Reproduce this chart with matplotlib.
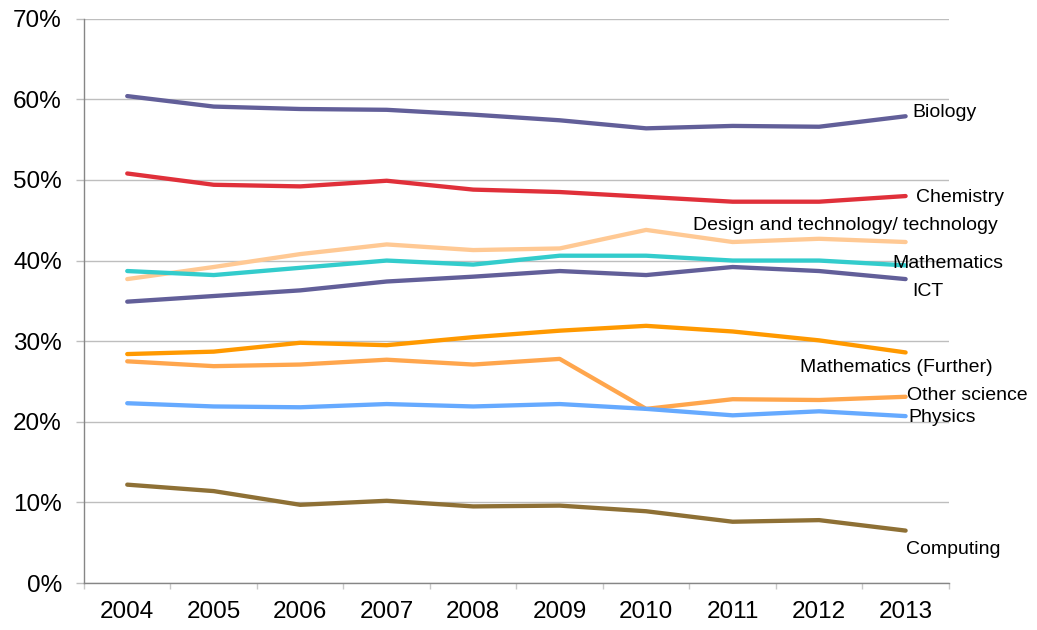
import matplotlib
matplotlib.use("Agg")
import matplotlib.pyplot as plt
import numpy as np

plt.rcParams['font.family'] = ['Liberation Sans', 'DejaVu Sans']

years = ['2004', '2005', '2006', '2007', '2008', '2009', '2010', '2011', '2012', '2013']

biology = [60.4, 59.1, 58.8, 58.7, 58.1, 57.4, 56.4, 56.7, 56.6, 57.9]
chemistry = [50.8, 49.4, 49.2, 49.9, 48.8, 48.5, 47.9, 47.3, 47.3, 48.0]
design_tech = [37.7, 39.2, 40.8, 42.0, 41.3, 41.5, 43.8, 42.3, 42.7, 42.3]
mathematics = [38.7, 38.2, 39.1, 40.0, 39.5, 40.6, 40.6, 40.0, 40.0, 39.4]
ict = [34.9, 35.6, 36.3, 37.4, 38.0, 38.7, 38.2, 39.2, 38.7, 37.7]
maths_further = [28.4, 28.7, 29.8, 29.5, 30.5, 31.3, 31.9, 31.2, 30.1, 28.6]
other_science = [27.5, 26.9, 27.1, 27.7, 27.1, 27.8, 21.6, 22.8, 22.7, 23.1]
physics = [22.3, 21.9, 21.8, 22.2, 21.9, 22.2, 21.6, 20.8, 21.3, 20.7]
computing = [12.2, 11.4, 9.7, 10.2, 9.5, 9.6, 8.9, 7.6, 7.8, 6.5]

# (label, values, colour, label offset in pixels from last point, alignment)
series = [
    ('Biology', biology, '#625F99', (7, 4), 'left'),
    ('Chemistry', chemistry, '#E0303A', (10, -1), 'left'),
    ('Design and technology/ technology', design_tech, '#FFC994', (92, 17), 'right'),
    ('Mathematics', mathematics, '#33CCCC', (-13, 2), 'left'),
    ('ICT', ict, '#625F99', (7, -12), 'left'),
    ('Mathematics (Further)', maths_further, '#FF9900', (87, -15), 'right'),
    ('Other science', other_science, '#FFA64D', (1, 1), 'left'),
    ('Physics', physics, '#66AAFF', (3, -1), 'left'),
    ('Computing', computing, '#8E7035', (0, -19), 'left'),
]

fig = plt.figure(figsize=(10.37, 6.30), dpi=100)
ax = fig.add_axes([0.081, 0.0746, 0.834, 0.8957])

x = np.arange(len(years))
for name, vals, col, off, ha in series:
    ax.plot(x, vals, color=col, lw=3.1, solid_capstyle='round', zorder=3)
    ax.annotate(name, xy=(x[-1], vals[-1]), xytext=off, textcoords='offset pixels',
                ha=ha, va='center', fontsize=14, color='#000000', zorder=4)

ax.set_xlim(-0.5, len(years) - 0.5)
ax.set_ylim(0, 70)

# y axis
ax.set_yticks(np.arange(0, 71, 10))
ax.set_yticklabels([f'{v}%' for v in range(0, 71, 10)])
ax.yaxis.grid(True, color='#BEBEBE', lw=1.0, zorder=0)
ax.tick_params(axis='y', length=6, width=1, color='#BEBEBE', pad=10, labelsize=17.5)

# x axis: tick marks between categories, labels at category centres
ax.set_xticks(np.arange(-0.5, len(years), 1.0))
ax.set_xticklabels([])
ax.set_xticks(x, minor=True)
ax.set_xticklabels(years, minor=True)
ax.tick_params(axis='x', which='major', length=4, width=1, color='#C8C8C8')
ax.tick_params(axis='x', which='minor', length=0, pad=13, labelsize=17.5)

for s in ['top', 'right']:
    ax.spines[s].set_visible(False)
for s in ['left', 'bottom']:
    ax.spines[s].set_color('#868686')
    ax.spines[s].set_linewidth(1.0)
ax.set_axisbelow(True)

fig.savefig('out.png', dpi=100, facecolor='white')
